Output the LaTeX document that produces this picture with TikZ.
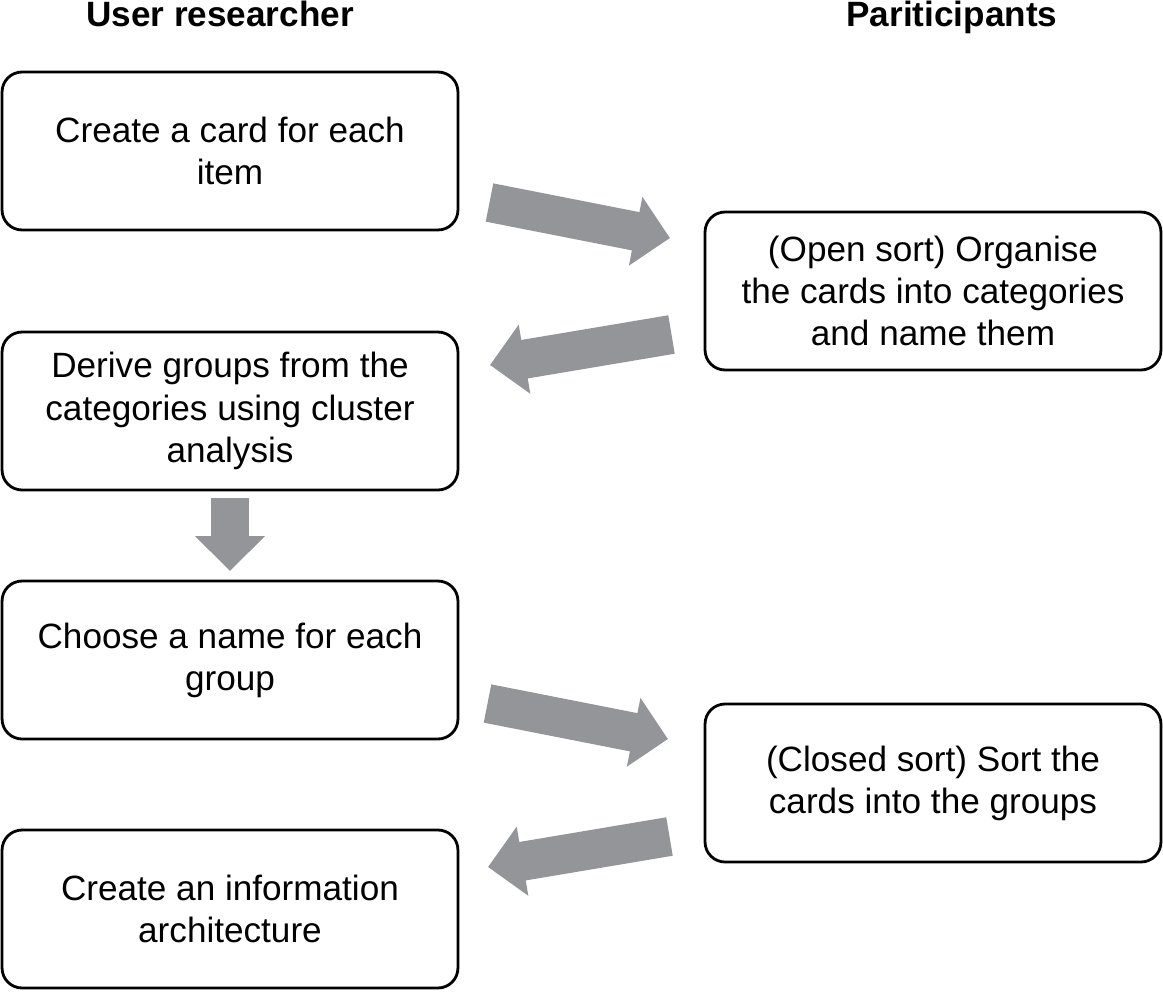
\documentclass[tikz,border=0pt]{standalone}
\usepackage{fontspec}
\setmainfont{Liberation Sans}
\usetikzlibrary{arrows.meta}
\definecolor{arrowgray}{HTML}{939598}

\begin{document}
\begin{tikzpicture}[x=0.02cm, y=-0.02cm, font=\fontsize{20}{24}\selectfont,
    stepbox/.style={draw, line width=1.6pt, rounded corners=0.4cm,
      minimum width=9.12cm, minimum height=3.16cm, align=center},
    heading/.style={font=\fontsize{20}{24}\selectfont\bfseries, anchor=base},
    fat/.style={arrowgray, line width=0.78cm,
      -{Triangle[length=0.7cm, width=1.36cm]}}]
    \useasboundingbox (0,0) rectangle (1163,991);
    % column headings
    \node[heading] (hr) at (220,26) {User researcher};
    \node[heading] (hp) at (952,26) {Pariticipants};
    % researcher steps
    \node[stepbox] (card) at (230,151) {Create a card for each\\item};
    \node[stepbox] (derive) at (230,411) {Derive groups from the\\categories using cluster\\analysis};
    \node[stepbox] (choose) at (230,660) {Choose a name for each\\group};
    \node[stepbox] (ia) at (230,909) {Create an information\\architecture};
    % participant steps
    \node[stepbox] (open) at (933,291) {(Open sort) Organise\\the cards into categories\\and name them};
    \node[stepbox] (closed) at (933,783) {(Closed sort) Sort the\\cards into the groups};
    % arrow end points
    \coordinate (a1s) at (489.5,202.5);
    \coordinate (a1e) at (670,238);
    \coordinate (a2s) at (671.5,334.5);
    \coordinate (a2e) at (490,365);
    \coordinate (d1s) at (230,498);
    \coordinate (d1e) at (230,571);
    \coordinate (a3s) at (487.5,703.5);
    \coordinate (a3e) at (668,739);
    \coordinate (a4s) at (669.5,836.5);
    \coordinate (a4e) at (488,867);
    \draw[fat] (a1s) -- (a1e);
    \draw[fat] (a2s) -- (a2e);
    \draw[fat] (d1s) -- (d1e);
    \draw[fat] (a3s) -- (a3e);
    \draw[fat] (a4s) -- (a4e);
\end{tikzpicture}
\end{document}
